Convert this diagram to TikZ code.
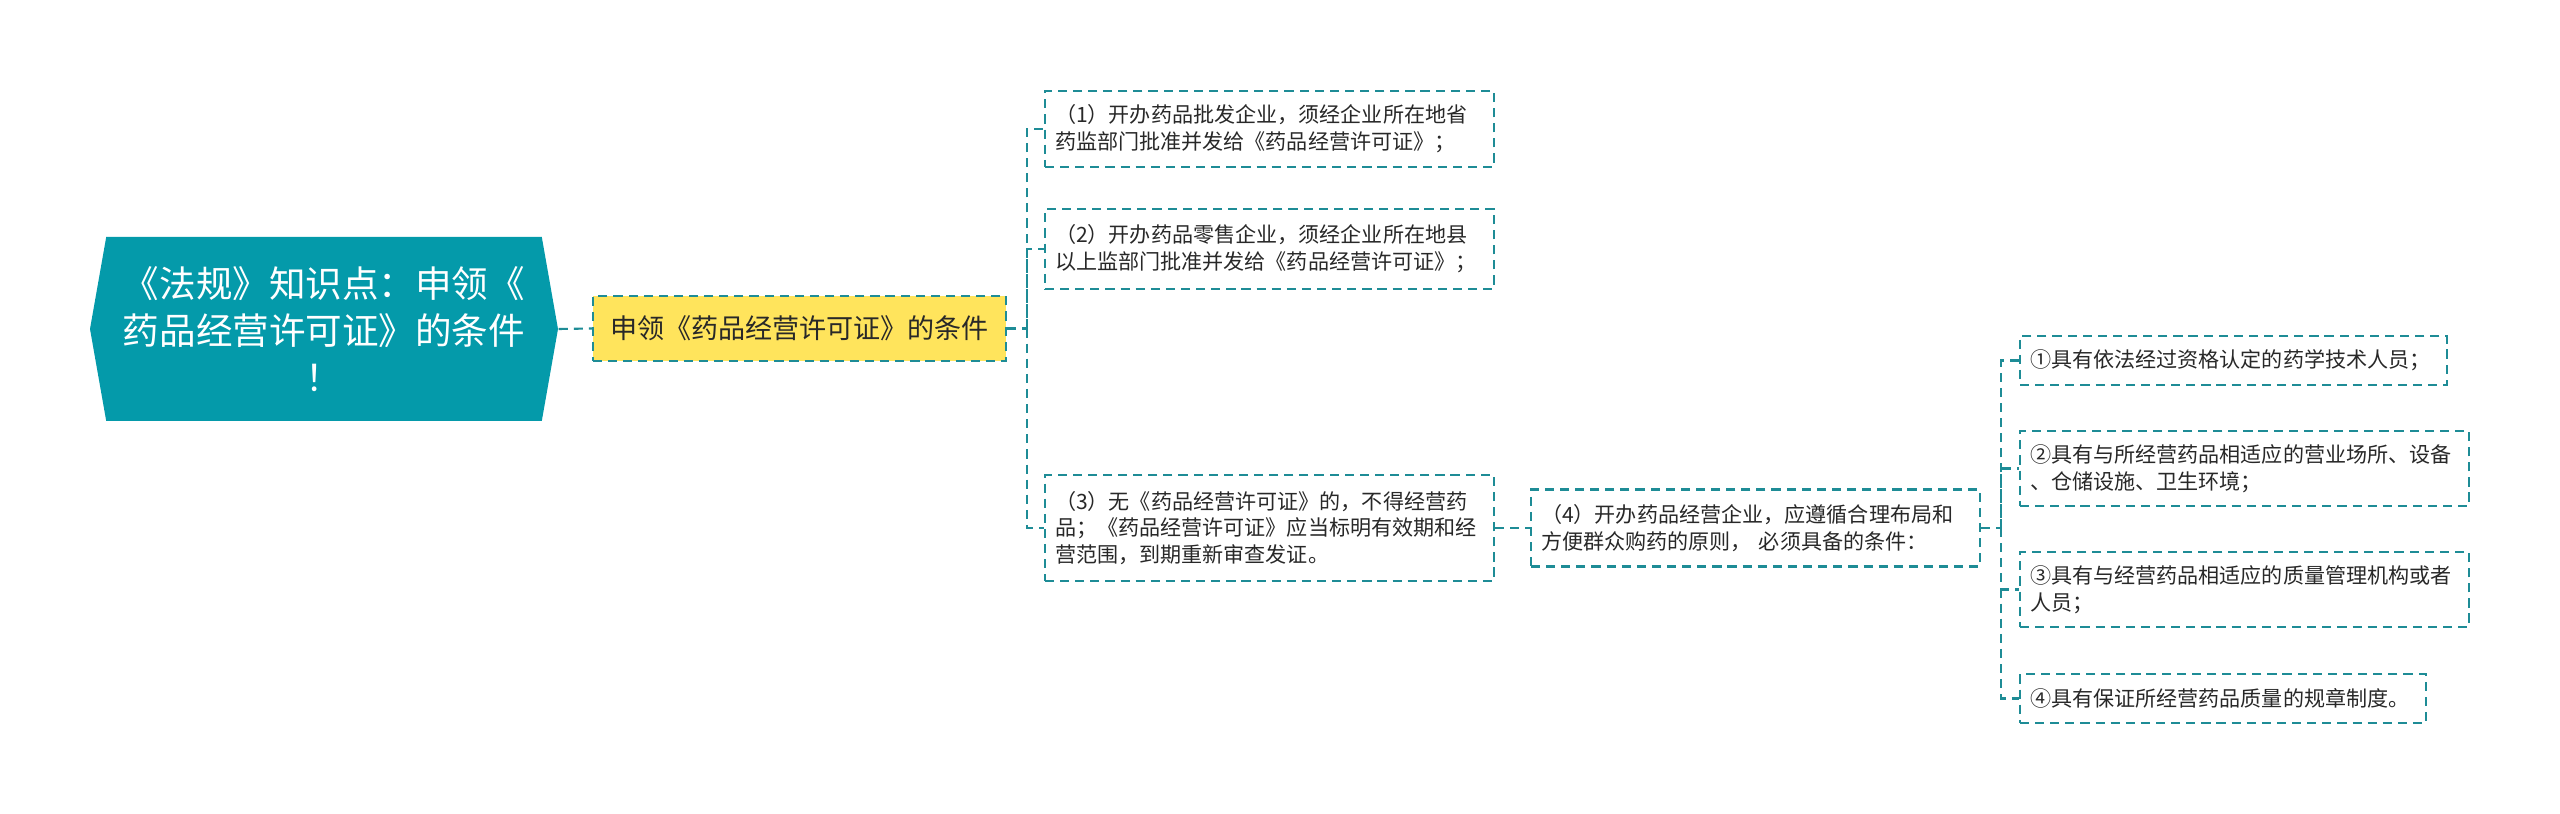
\documentclass[tikz,border=0pt]{standalone}
\usepackage{fontspec}
\newfontfamily\cjk{Noto Sans CJK SC}
\usetikzlibrary{calc}
\usetikzlibrary{math}
\usetikzlibrary{shapes}

\begin{document}
\begin{tikzpicture}
    \definecolor{topicTeal}{RGB}{4, 154, 170}
    \definecolor{lineTeal}{RGB}{30, 140, 150}
    \definecolor{condYellow}{RGB}{255, 228, 92}
    \definecolor{textGrey}{RGB}{40, 40, 40}
    
    \tikzmath {
        \picW = 25.6;
        \picH = 8.14;
        \boxW = 4.49;
        \pad = 0.1;
        \forkGap = 0.2;
    }
    
    \tikzstyle{dline}=[draw=lineTeal, line width=0.6pt, dash pattern=on 2.6pt off 1.7pt]
    \tikzstyle{topic}=[shape=signal, signal to=west and east, signal pointer angle=160, fill=topicTeal, text=white, minimum width=4.68cm, minimum height=1.84cm, inner sep=0pt, align=center, font=\cjk\fontsize{10.4pt}{13.4pt}\selectfont]
    \tikzstyle{cond}=[dline, fill=condYellow, text=textGrey, minimum width=4.13cm, minimum height=0.65cm, inner sep=0pt, font=\cjk\fontsize{7.7pt}{9pt}\selectfont]
    \tikzstyle{item}=[dline, fill=white, text=textGrey, text width=\boxW cm - 2*\pad cm, align=left, inner xsep=\pad cm, inner ysep=0pt, font=\cjk\fontsize{6pt}{7.6pt}\selectfont]
    
    \fill[white] (0,0) rectangle (\picW, \picH);
    \useasboundingbox (0,0) rectangle (\picW, \picH);
    
    \coordinate (topic_c) at (3.24, 4.85);
    \node[topic] (topic) at (topic_c) {《法规》知识点：申领《\\药品经营许可证》的条件\\！};
    
    \coordinate (cond_c) at ($(topic_c) + (4.755, 0.005)$);
    \node[cond] (cond) at (cond_c) {申领《药品经营许可证》的条件};
    
    \coordinate (item1_c) at (12.695, 6.85);
    \node[item, minimum height=0.76cm] (item1) at (item1_c) {（1）开办药品批发企业，须经企业所在地省\\药监部门批准并发给《药品经营许可证》；};
    
    \coordinate (item2_c) at ($(item1_c) - (0, 1.2)$);
    \node[item, minimum height=0.8cm] (item2) at (item2_c) {（2）开办药品零售企业，须经企业所在地县\\以上监部门批准并发给《药品经营许可证》；};
    
    \coordinate (item3_c) at ($(item1_c) - (0, 3.99)$);
    \node[item, minimum height=1.06cm] (item3) at (item3_c) {（3）无《药品经营许可证》的，不得经营药\\品；《药品经营许可证》应当标明有效期和经\\营范围，到期重新审查发证。};
    
    \coordinate (item4_c) at ($(item3_c) + (4.86, 0)$);
    \node[item, minimum height=0.77cm] (item4) at (item4_c) {（4）开办药品经营企业，应遵循合理布局和\\方便群众购药的原则， 必须具备的条件：};
    
    \coordinate (req1_c) at (22.335, 4.535);
    \node[item, text width=4.07cm, minimum height=0.49cm] (req1) at (req1_c) {①具有依法经过资格认定的药学技术人员；};
    
    \coordinate (req2_c) at (22.445, 3.455);
    \node[item, minimum height=0.75cm] (req2) at (req2_c) {②具有与所经营药品相适应的营业场所、设备\\、仓储设施、卫生环境；};
    
    \coordinate (req3_c) at ($(req2_c) - (0, 1.21)$);
    \node[item, minimum height=0.75cm] (req3) at (req3_c) {③具有与经营药品相适应的质量管理机构或者\\人员；};
    
    \coordinate (req4_c) at (22.23, 1.155);
    \node[item, text width=3.86cm, minimum height=0.49cm] (req4) at (req4_c) {④具有保证所经营药品质量的规章制度。};
    
    \draw[dline] (topic.east) -- (cond.west);
    
    \coordinate (fork_a) at ($(cond.east) + (\forkGap, 0)$);
    \draw[dline] (cond.east) -- (fork_a) |- (item1.west);
    \draw[dline] (fork_a) |- (item2.west);
    \draw[dline] (fork_a) |- (item3.west);
    
    \draw[dline] (item3.east) -- (item4.west);
    
    \coordinate (fork_b) at ($(item4.east) + (\forkGap, 0)$);
    \draw[dline] (item4.east) -- (fork_b) |- (req1.west);
    \draw[dline] (fork_b) |- (req2.west);
    \draw[dline] (fork_b) |- (req3.west);
    \draw[dline] (fork_b) |- (req4.west);
\end{tikzpicture}
\end{document}
